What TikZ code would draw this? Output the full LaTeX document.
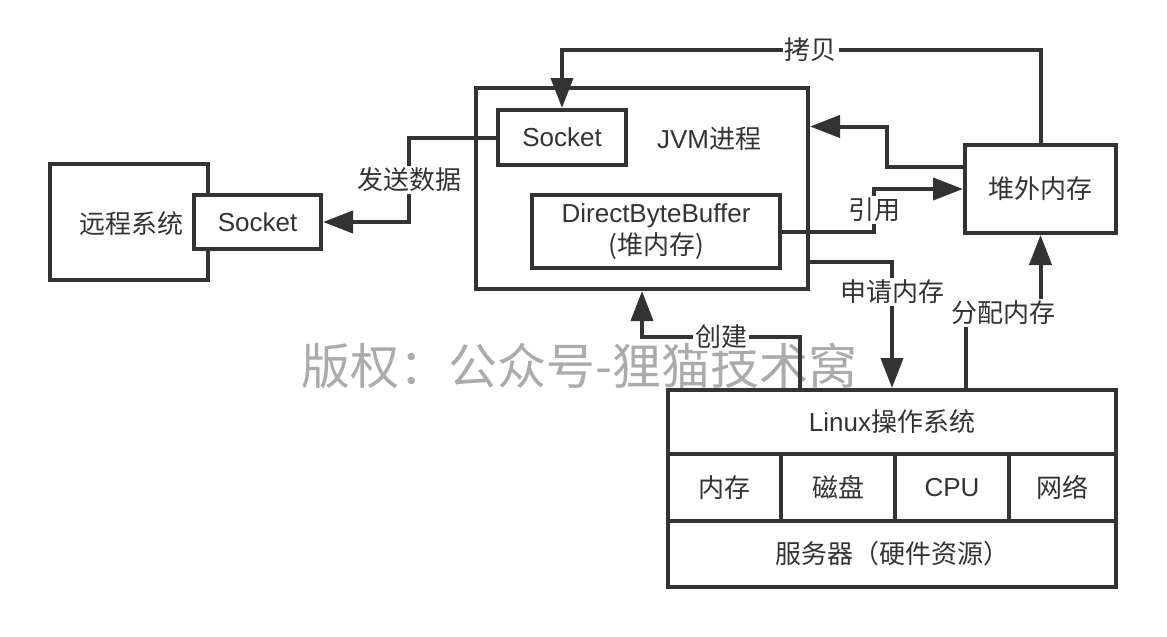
\documentclass[tikz,border=0pt]{standalone}
\usepackage{fontspec}
\setmainfont{Noto Sans CJK SC}
\newfontfamily\latin{Liberation Sans}
\usepackage{tikz}
\usetikzlibrary{arrows.meta}
\definecolor{darkline}{HTML}{333333}
\definecolor{markgray}{HTML}{ABABAB}

\begin{document}
\begin{tikzpicture}[x=1pt,y=-1pt,>={Triangle[length=30pt,width=22pt]},
    line width=4pt,draw=darkline,
    every node/.style={font=\fontsize{26}{32}\selectfont,text=darkline},
    box/.style n args={2}{draw=darkline,fill=white,inner sep=0pt,
        minimum width=#1,minimum height=#2},
    lbl/.style={fill=white,inner sep=2pt}]
        \useasboundingbox (0,0) rectangle (1167,637);
        % watermark
        \node[text=markgray,font=\fontsize{49}{56}\selectfont] (mark) at (579,366) {版权：公众号-狸猫技术窝};
        % boxes
        \node[box={158pt}{116pt}] (remote) at (129,222) {};
        \node (remotelbl) at (131,224) {远程系统};
        \node[box={127pt}{54pt}] (rsock) at (257.5,222) {\latin Socket};
        \node[box={332pt}{201pt}] (jvm) at (642,188.5) {};
        \node[box={128pt}{55pt}] (jsock) at (562,137.5) {\latin Socket};
        \node (jvmlbl) at (709,139) {{\latin JVM}进程};
        \node[box={248pt}{73pt},align=center] (dbb) at (656,231.5) {{\latin DirectByteBuffer}\\(堆内存)};
        \node[box={151pt}{88pt}] (heap) at (1040.5,189) {堆外内存};
        \node[box={448pt}{64pt}] (os) at (892,422) {{\latin Linux}操作系统};
        \node[box={113pt}{67pt}] (mem) at (724.5,487.5) {内存};
        \node[box={114pt}{67pt}] (disk) at (838,487.5) {磁盘};
        \node[box={114pt}{67pt}] (cpu) at (952,487.5) {\latin CPU};
        \node[box={107pt}{67pt}] (net) at (1062.5,487.5) {网络};
        \node[box={448pt}{66pt}] (hw) at (892,554) {服务器（硬件资源）};
        % connectors
        \draw[->] (jsock.west) -- ++(-87,0) |- (rsock.east) node[lbl,pos=0.25] {发送数据};
        \draw[->] (heap.north) -- ++(0,-93) -| (jsock.north) node[lbl,pos=0.24] {拷贝};
        \draw[->] ([yshift=22pt]heap.west) -- ++(-76,0) |- ([yshift=62pt]jvm.east);
        \draw[->] (dbb.east) -- ++(92,0) |- (heap.west) node[lbl,pos=0.25] {引用};
        \draw[->] ([yshift=-73pt]jvm.east) -| (os.north) node[lbl,pos=0.62] {申请内存};
        \draw[->] ([xshift=74pt]os.north) -- ++(0,-75) -| (heap.south) node[lbl,pos=0.25] {分配内存};
        \draw[->] ([xshift=-92pt]os.north) -- ++(0,-51) -| (jvm.south) node[lbl,pos=0.25] {创建};
    \end{tikzpicture}
\end{document}
